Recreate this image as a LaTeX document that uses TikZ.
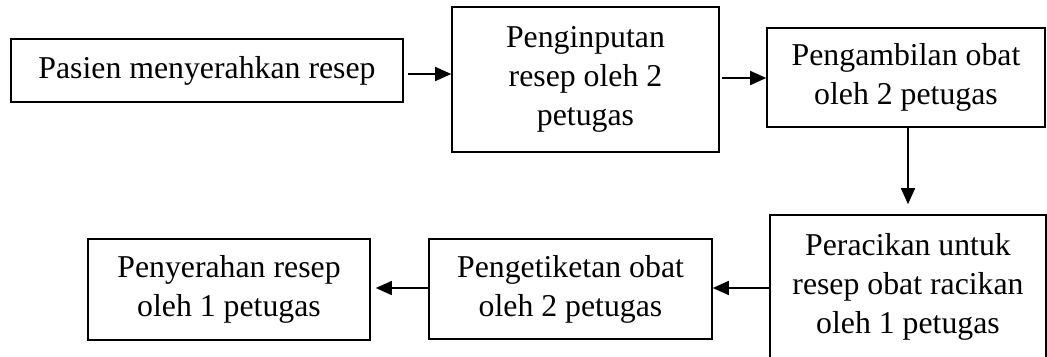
\documentclass[tikz,border=0pt]{standalone}
\usepackage{fontspec}
\setmainfont{Liberation Serif}
\usetikzlibrary{arrows.meta,calc}
\begin{document}
\begin{tikzpicture}[x=1bp,y=-1bp,
  box/.style={draw,line width=1.6bp,rectangle,inner sep=0pt,align=center,
    font=\fontsize{31.9}{39.1}\selectfont},
  arr/.style={line width=1.6bp,-{Triangle[length=16bp,width=14bp]}}]
\useasboundingbox (0,0) rectangle (1047,356);
\node[box,minimum width=392bp,minimum height=63bp] (b1) at (207,70.5) {Pasien menyerahkan resep};
\node[box,minimum width=267bp,minimum height=145bp] (b2) at (585.5,79.5) {Penginputan\\resep oleh 2\\petugas};
\node[box,minimum width=278bp,minimum height=99bp] (b3) at (906,77.5) {Pengambilan obat\\oleh 2 petugas};
\node[box,minimum width=276bp,minimum height=144bp] (b4) at (908,287) {Peracikan untuk\\resep obat racikan\\oleh 1 petugas};
\node[box,minimum width=283bp,minimum height=100bp] (b5) at (570.5,289) {Pengetiketan obat\\oleh 2 petugas};
\node[box,minimum width=282bp,minimum height=101bp] (b6) at (229,289.5) {Penyerahan resep\\oleh 1 petugas};
\coordinate (a1) at ($(b1.east)+(4,3.5)$);
\draw[arr] (a1) -- (b2.west |- a1);
\coordinate (a2) at ($(b2.east)+(2,-1.5)$);
\draw[arr] (a2) -- (b3.west |- a2);
\coordinate (a3) at ($(b3.south)+(2,0)$);
\draw[arr,shorten >=10bp] (a3) -- (a3 |- b4.north);
\coordinate (a4) at ($(b4.west)+(0,1)$);
\draw[arr] (a4) -- (b5.east |- a4);
\coordinate (a5) at ($(b5.west)+(0,-1)$);
\draw[arr,shorten >=5bp] (a5) -- (b6.east |- a5);
\end{tikzpicture}
\end{document}
